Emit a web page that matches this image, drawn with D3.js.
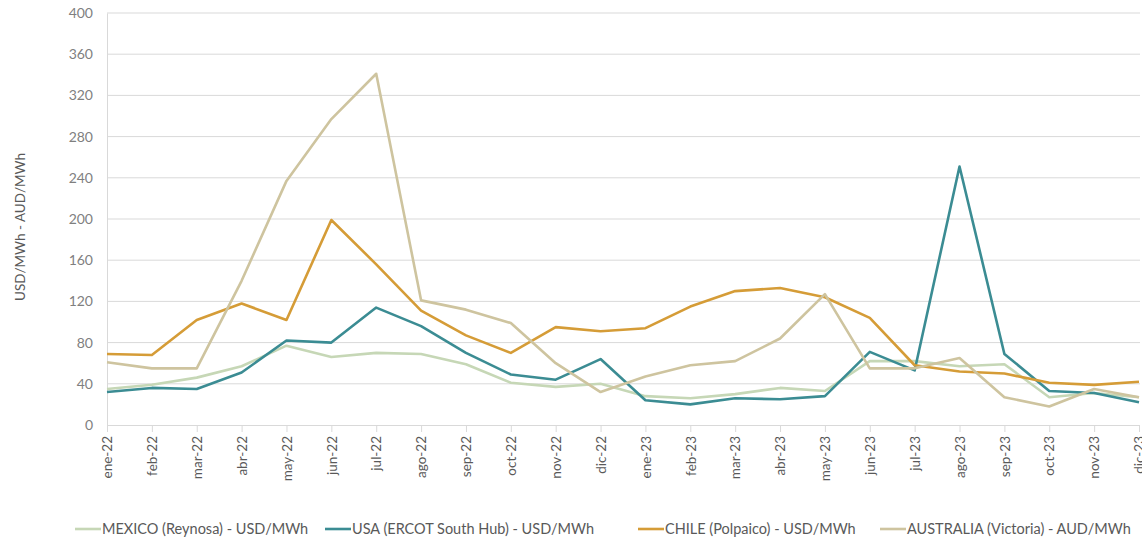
<!DOCTYPE html>
<html>
<head>
<meta charset="utf-8">
<script src="https://cdn.jsdelivr.net/npm/d3@7"></script>
<style>
  body { margin: 0; background: #fff; }
  svg { display: block; font-family: Lato, "Open Sans", sans-serif; }
</style>
</head>
<body>
<svg id="chart" width="1142" height="542"></svg>
<script>
// months on the x axis
const months = ['ene-22', 'feb-22', 'mar-22', 'abr-22', 'may-22', 'jun-22', 'jul-22', 'ago-22',
  'sep-22', 'oct-22', 'nov-22', 'dic-22', 'ene-23', 'feb-23', 'mar-23', 'abr-23', 'may-23',
  'jun-23', 'jul-23', 'ago-23', 'sep-23', 'oct-23', 'nov-23', 'dic-23'];

const y_ticks = [0, 40, 80, 120, 160, 200, 240, 280, 320, 360, 400];

// series values
const mexico = [35, 39, 46, 57, 77, 66, 70, 69, 59, 41, 37, 40, 28, 26, 30, 36, 33, 62, 62, 57, 59, 27, 31, 27];
const usa = [32, 36, 35, 51, 82, 80, 114, 96, 70, 49, 44, 64, 24, 20, 26, 25, 28, 71, 53, 251, 69, 33, 31, 22];
const chile = [69, 68, 102, 118, 102, 199, 156, 111, 87, 70, 95, 91, 94, 115, 130, 133, 124, 104, 58, 52, 50, 41, 39, 42];
const australia = [61, 55, 55, 140, 237, 297, 341, 121, 112, 99, 60, 32, 47, 58, 62, 84, 127, 55, 55, 65, 27, 18, 35, 27];

const series_names = ['MEXICO (Reynosa) - USD/MWh', 'USA (ERCOT South Hub) - USD/MWh',
  'CHILE (Polpaico) - USD/MWh', 'AUSTRALIA (Victoria) - AUD/MWh'];
const series_colors = ['#c6d7b6', '#3b8c93', '#d59c37', '#cec49f'];

const series = [mexico, usa, chile, australia].map((values, i) => ({
  name: series_names[i],
  color: series_colors[i],
  values
}));

const svg = d3.select('#chart');
const plot_left = 107, plot_right = 1139, plot_top = 13, plot_bottom = 425;

const x = d3.scalePoint().domain(months).range([plot_left, plot_right]);
const y = d3.scaleLinear().domain([0, 400]).range([plot_bottom, plot_top]);

// gridlines
svg.append('g')
  .selectAll('line')
  .data(y_ticks.filter(d => d > 0))
  .enter()
  .append('line')
  .attr('x1', plot_left)
  .attr('x2', plot_right + 1)
  .attr('y1', d => y(d))
  .attr('y2', d => y(d))
  .attr('stroke', '#d9d9d9')
  .attr('stroke-width', 1);

// y axis
const y_axis = svg.append('g')
  .attr('transform', `translate(${plot_left},0)`)
  .call(d3.axisLeft(y).tickValues(y_ticks).tickSize(0).tickPadding(14));
y_axis.select('.domain').attr('stroke', '#d9d9d9');
y_axis.selectAll('text')
  .attr('fill', '#7f7f7f')
  .attr('font-size', 14)
  .attr('font-family', 'Lato, "Open Sans", sans-serif');

// x axis
const x_axis = svg.append('g')
  .attr('transform', `translate(0,${plot_bottom})`)
  .call(d3.axisBottom(x).tickSize(7).tickSizeOuter(0));
x_axis.select('.domain').attr('stroke', '#d9d9d9');
x_axis.selectAll('.tick line').attr('stroke', '#d9d9d9');
x_axis.selectAll('text')
  .attr('fill', '#595959')
  .attr('font-size', 13.5)
  .attr('font-family', 'Lato, "Open Sans", sans-serif')
  .attr('transform', 'rotate(-90)')
  .attr('text-anchor', 'end')
  .attr('dy', '0.35em')
  .attr('x', -11)
  .attr('y', 0);

// y axis title
svg.append('text')
  .attr('transform', 'translate(25,227) rotate(-90)')
  .attr('text-anchor', 'middle')
  .attr('font-size', 13.5)
  .attr('fill', '#595959')
  .text('USD/MWh - AUD/MWh');

// lines
const line = d3.line()
  .x((d, i) => x(months[i]))
  .y(d => y(d));

svg.append('g')
  .selectAll('path')
  .data(series)
  .enter()
  .append('path')
  .attr('d', d => line(d.values))
  .attr('fill', 'none')
  .attr('stroke', d => d.color)
  .attr('stroke-width', 2.6)
  .attr('stroke-linejoin', 'round');

// legend
const legend_x = [75, 325, 638, 880];
const legend = svg.append('g')
  .selectAll('g')
  .data(series)
  .enter()
  .append('g')
  .attr('transform', (d, i) => `translate(${legend_x[i]},529)`);
legend.append('line')
  .attr('x1', 0)
  .attr('x2', 26)
  .attr('stroke', d => d.color)
  .attr('stroke-width', 2.6);
legend.append('text')
  .attr('x', 27)
  .attr('dy', '0.35em')
  .attr('font-size', 14.5)
  .attr('fill', '#595959')
  .text(d => d.name);
</script>
</body>
</html>
